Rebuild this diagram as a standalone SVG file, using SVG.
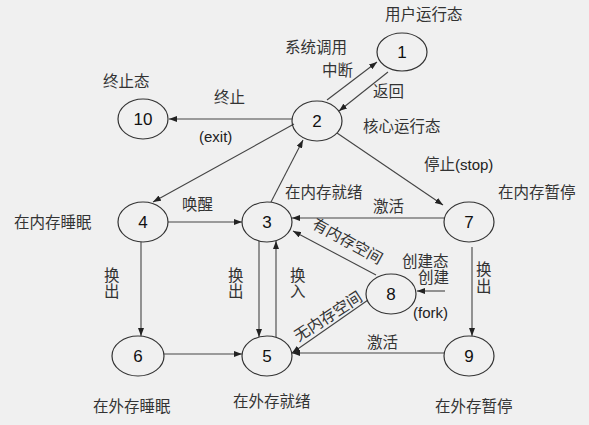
<svg xmlns="http://www.w3.org/2000/svg" width="589" height="425" viewBox="0 0 589 425">
<defs>
<marker id="arr" markerUnits="userSpaceOnUse" markerWidth="8" markerHeight="6" refX="8" refY="3" orient="auto">
<path d="M0,0 L8,3 L0,6 z" fill="#222"/>
</marker>
<style>
.n ellipse{fill:none;stroke:#333;stroke-width:1.2}
.n text{font-family:"Liberation Sans",Arial,sans-serif;font-size:17px;fill:#111;text-anchor:middle}
.c line{stroke:#444;stroke-width:1.1;marker-end:url(#arr)}
.t{font-family:"Liberation Serif","Noto Sans CJK SC",serif;font-size:15.5px;fill:#333}
.l{font-family:"Liberation Sans",Arial,sans-serif;font-size:15px;fill:#222}
</style>
</defs>
<rect width="589" height="425" fill="#f0f0f0"/>
<g class="c" id="connectors">
<line x1="327" y1="100" x2="377" y2="62"/>
<line x1="388" y1="72" x2="339" y2="111"/>
<line x1="292" y1="119" x2="169" y2="119"/>
<line x1="294" y1="124" x2="153" y2="202"/>
<line x1="271" y1="202" x2="303" y2="140"/>
<line x1="337" y1="133" x2="443" y2="205"/>
<line x1="168" y1="222" x2="242" y2="222"/>
<line x1="444" y1="218" x2="292" y2="218"/>
<line x1="376" y1="275" x2="293" y2="231"/>
<line x1="368" y1="300" x2="292" y2="353"/>
<line x1="444" y1="353" x2="292" y2="353"/>
<line x1="259" y1="241" x2="259" y2="337"/>
<line x1="276" y1="337" x2="276" y2="241"/>
<line x1="141" y1="242" x2="141" y2="336"/>
<line x1="164" y1="354" x2="242" y2="354"/>
<line x1="472" y1="247" x2="472" y2="336"/>
<line x1="445" y1="291" x2="417" y2="291"/>
</g>
<g class="n" id="node1"><ellipse cx="402" cy="52" rx="25" ry="19"/><text x="402" y="58">1</text></g>
<g class="n" id="node2"><ellipse cx="317" cy="121" rx="25" ry="20"/><text x="317" y="127">2</text></g>
<g class="n" id="node3"><ellipse cx="267" cy="222" rx="25" ry="20"/><text x="267" y="228">3</text></g>
<g class="n" id="node4"><ellipse cx="143" cy="222" rx="25" ry="20"/><text x="143" y="228">4</text></g>
<g class="n" id="node5"><ellipse cx="267" cy="356" rx="25" ry="20"/><text x="267" y="362">5</text></g>
<g class="n" id="node6"><ellipse cx="138" cy="356" rx="26" ry="20"/><text x="138" y="362">6</text></g>
<g class="n" id="node7"><ellipse cx="469" cy="222" rx="25" ry="20"/><text x="469" y="228">7</text></g>
<g class="n" id="node8"><ellipse cx="391" cy="294" rx="25" ry="20"/><text x="391" y="300">8</text></g>
<g class="n" id="node9"><ellipse cx="469" cy="356" rx="25" ry="20"/><text x="469" y="362">9</text></g>
<g class="n" id="node10"><ellipse cx="143" cy="119" rx="25" ry="20"/><text x="143" y="125">10</text></g>
<g id="labels">
<text class="t" x="385" y="20">用户运行态</text>
<text class="t" x="285" y="53">系统调用</text>
<text class="t" x="322" y="76">中断</text>
<text class="t" x="373" y="97">返回</text>
<text class="t" x="363" y="132">核心运行态</text>
<text class="t" x="424" y="170">停止<tspan class="l">(stop)</tspan></text>
<text class="t" x="498" y="198">在内存暂停</text>
<text class="t" x="285" y="198">在内存就绪</text>
<text class="t" x="373" y="212">激活</text>
<text class="t" x="103" y="87">终止态</text>
<text class="t" x="214" y="103">终止</text>
<text class="l" x="199" y="142">(exit)</text>
<text class="t" x="182" y="210">唤醒</text>
<text class="t" x="14" y="228">在内存睡眠</text>
<text class="t" x="104" y="281">换<tspan x="104" y="297">出</tspan></text>
<text class="t" x="228" y="281">换<tspan x="228" y="297">出</tspan></text>
<text class="t" x="290" y="281">换<tspan x="290" y="297">入</tspan></text>
<text class="t" x="476" y="275">换<tspan x="476" y="292">出</tspan></text>
<text class="t" x="93" y="412">在外存睡眠</text>
<text class="t" x="233" y="407">在外存就绪</text>
<text class="t" x="435" y="412">在外存暂停</text>
<text class="t" x="367" y="348">激活</text>
<text class="t" x="402" y="267">创建态</text>
<text class="t" x="418" y="283">创建</text>
<text class="l" x="413" y="318">(fork)</text>
<text class="t" transform="translate(345,246) rotate(29)" text-anchor="middle" y="0">有内存空间</text>
<text class="t" transform="translate(331,321) rotate(-33)" text-anchor="middle" y="0">无内存空间</text>
</g>
</svg>
